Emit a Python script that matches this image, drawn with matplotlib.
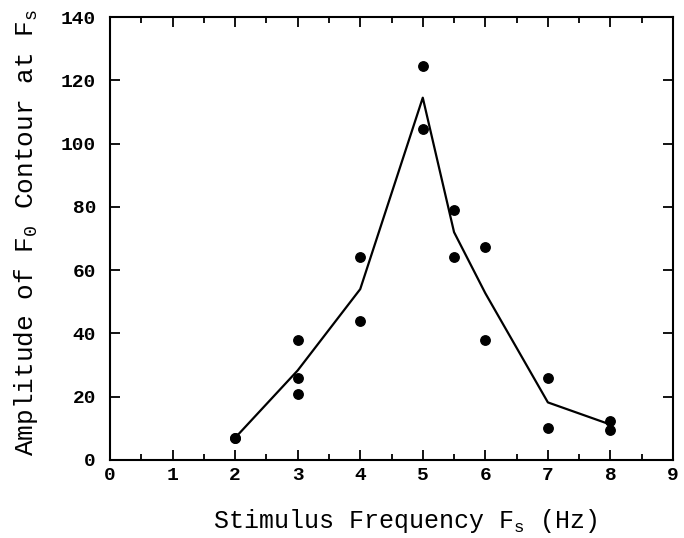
import matplotlib
matplotlib.use("Agg")
import matplotlib.pyplot as plt
from matplotlib.ticker import MultipleLocator

# individual measurements
freq_pts = [2, 2, 3, 3, 3, 4, 4, 5, 5, 5.5, 5.5, 6, 6, 7, 7, 8, 8]
amp_pts = [7, 7, 38, 25.8, 21, 64, 44, 124.5, 104.5, 79, 64, 67.2, 38, 25.8, 10.2, 12.3, 9.4]

# average curve
freq_line = [2, 3, 4, 5, 5.5, 6, 7, 8]
amp_line = [7, 28.3, 54, 114.5, 72, 52.7, 18.2, 11.2]

plt.rcParams['font.family'] = ['Liberation Mono', 'DejaVu Sans Mono']
plt.rcParams['font.weight'] = 'bold'
plt.rcParams['mathtext.fontset'] = 'custom'
plt.rcParams['mathtext.rm'] = 'Liberation Mono:bold'

fig = plt.figure(figsize=(6.84, 5.38), dpi=100)
# axes box: x 110..673 px, y 17..460 px
ax = fig.add_axes([110 / 684, 78 / 538, 563 / 684, 443 / 538])

ax.plot(freq_line, amp_line, color='black', lw=1.6)
ax.plot(freq_pts, amp_pts, 'o', color='black', ms=6.8)

ax.set_xlim(0, 9)
ax.set_ylim(0, 140)
ax.xaxis.set_major_locator(MultipleLocator(1))
ax.xaxis.set_minor_locator(MultipleLocator(0.5))
ax.yaxis.set_major_locator(MultipleLocator(20))
ax.tick_params(which='both', direction='in', top=True, right=True, width=1.3)
ax.tick_params(which='major', length=7, labelsize=14)
ax.tick_params(which='minor', length=4)
ax.tick_params(axis='x', pad=5)
ax.tick_params(axis='y', pad=10)
for s in ax.spines.values():
    s.set_linewidth(1.5)

ax.set_xlabel(r'Stimulus Frequency F$_\mathregular{s}$ (Hz)', fontsize=18)
ax.xaxis.set_label_coords(0.525, -0.105)
ax.set_ylabel(r'Amplitude of F$_\mathregular{0}$ Contour at F$_\mathregular{s}$', fontsize=18.8)
ax.yaxis.set_label_coords(-0.125, 0.513)

fig.savefig('out.png', dpi=100)
